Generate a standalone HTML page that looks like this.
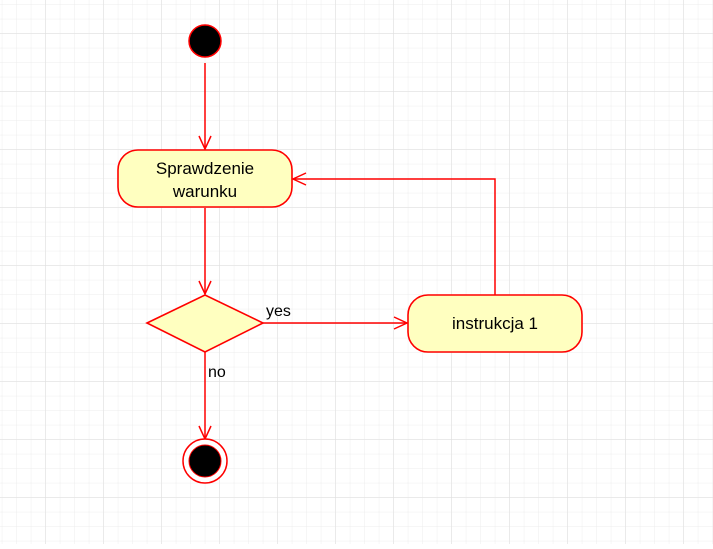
<!DOCTYPE html>
<html><head><style>
html,body{margin:0;padding:0;background:#fff;}
</style></head><body>
<svg width="713" height="544" xmlns="http://www.w3.org/2000/svg" font-family="Liberation Sans, Arial, sans-serif">
<defs>
<pattern id="minor" x="1.8" y="4.3" width="14.5" height="14.5" patternUnits="userSpaceOnUse">
<path d="M0 0H14.5M0 0V14.5" stroke="#ededed" stroke-width="1" fill="none"/>
</pattern>
<pattern id="major" x="45.3" y="33.3" width="58" height="58" patternUnits="userSpaceOnUse">
<path d="M0 0H58M0 0V58" stroke="#dedede" stroke-width="1" fill="none"/>
</pattern>
</defs>
<rect width="713" height="544" fill="#fff"/>
<rect width="713" height="544" fill="url(#minor)"/>
<rect width="713" height="544" fill="url(#major)"/>
<g stroke="#ff0000" stroke-width="1.5" fill="none">
<line x1="205" y1="63" x2="205" y2="149"/>
<path d="M199 136L205 149L211 136"/>
<line x1="205" y1="208" x2="205" y2="294"/>
<path d="M199 281L205 294L211 281"/>
<line x1="263" y1="323" x2="407" y2="323"/>
<path d="M394 317L407 323L394 329"/>
<line x1="205" y1="352" x2="205" y2="439"/>
<path d="M199 426L205 439L211 426"/>
<path d="M495 295V179H293"/>
<path d="M306 173L293 179L306 185"/>
</g>
<circle cx="205" cy="41" r="16" fill="#000" stroke="#ff0000" stroke-width="1.5"/>
<rect x="118" y="150" width="174" height="57" rx="20" fill="#ffffc0" stroke="#ff0000" stroke-width="1.6"/>
<text x="205" y="174" font-size="17" text-anchor="middle" fill="#000">Sprawdzenie</text>
<text x="205" y="197" font-size="17" text-anchor="middle" fill="#000">warunku</text>
<polygon points="147,323 205,295 263,323 205,352" fill="#ffffc0" stroke="#ff0000" stroke-width="1.6"/>
<rect x="408" y="295" width="174" height="57" rx="20" fill="#ffffc0" stroke="#ff0000" stroke-width="1.6"/>
<text x="495" y="329" font-size="17" text-anchor="middle" fill="#000">instrukcja 1</text>
<text x="266" y="316" font-size="16" fill="#000">yes</text>
<text x="208" y="377" font-size="16" fill="#000">no</text>
<circle cx="205" cy="461" r="22" fill="#fff" stroke="#ff0000" stroke-width="1.5"/>
<circle cx="205" cy="461" r="16" fill="#000" stroke="#ff0000" stroke-width="1"/>
</svg>
</body></html>
